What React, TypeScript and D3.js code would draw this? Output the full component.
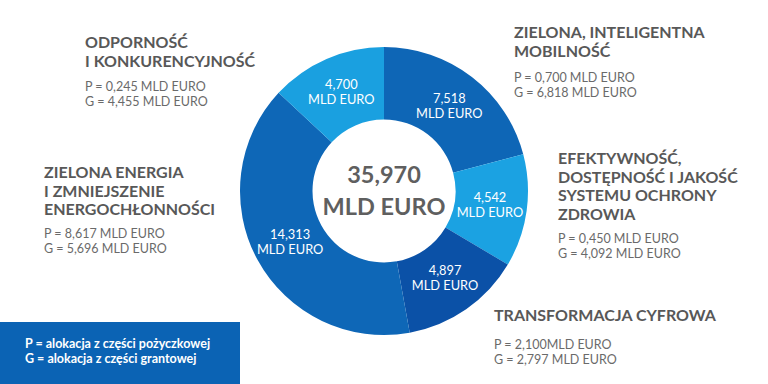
import React from "react";
import * as d3 from "d3";

// ---- data ----
const categories = [
  "Zielona, inteligentna mobilność",
  "Efektywność, dostępność i jakość systemu ochrony zdrowia",
  "Transformacja cyfrowa",
  "Zielona energia i zmniejszenie energochłonności",
  "Odporność i konkurencyjność",
];
const values = [7.518, 4.542, 4.897, 14.313, 4.7];
const valueLabels = ["7,518", "4,542", "4,897", "14,313", "4,700"];
const titleLines = [
  ["ZIELONA, INTELIGENTNA", "MOBILNOŚĆ"],
  ["EFEKTYWNOŚĆ,", "DOSTĘPNOŚĆ I JAKOŚĆ", "SYSTEMU OCHRONY", "ZDROWIA"],
  ["TRANSFORMACJA CYFROWA"],
  ["ZIELONA ENERGIA", "I ZMNIEJSZENIE", "ENERGOCHŁONNOŚCI"],
  ["ODPORNOŚĆ", "I KONKURENCYJNOŚĆ"],
];
const loanLines = [
  "P = 0,700 MLD EURO",
  "P = 0,450 MLD EURO",
  "P = 2,100MLD EURO",
  "P = 8,617 MLD EURO",
  "P = 0,245 MLD EURO",
];
const grantLines = [
  "G = 6,818 MLD EURO",
  "G = 4,092 MLD EURO",
  "G = 2,797 MLD EURO",
  "G = 5,696 MLD EURO",
  "G = 4,455 MLD EURO",
];
const totalLabel = "35,970";
const unitLabel = "MLD EURO";
const legendLines = [
  "P = alokacja z części pożyczkowej",
  "G = alokacja z części grantowej",
];

// ---- styling / layout ----
const colors = ["#0e66b6", "#1ba2e2", "#0b51a7", "#0e67b7", "#1aa0e0"];
const W = 768;
const H = 384;
const cx = 384;
const cy = 191;
const rOuter = 144;
const rInner = 71.5;
const FONT = "Lato, 'Open Sans', sans-serif";
const TITLE = "#585858";
const SUB = "#6a6a6a";

// annotation block anchors (x, first title baseline, baseline of P line)
const blocks = [
  { x: 514, y: 38, py: 82 },
  { x: 558, y: 164, py: 243 },
  { x: 494, y: 321, py: 349 },
  { x: 44, y: 178, py: 238 },
  { x: 85, y: 48, py: 91 },
];

export default function App() {
  const pie = d3
    .pie<number>()
    .sort(null)
    .value((d) => d)
    .startAngle(0)
    .endAngle(2 * Math.PI);
  const arcs = pie(values);
  const arc = d3.arc<d3.PieArcDatum<number>>().innerRadius(rInner).outerRadius(rOuter);
  const labelArc = d3
    .arc<d3.PieArcDatum<number>>()
    .innerRadius(107)
    .outerRadius(107);

  return (
    <svg
      width={W}
      height={H}
      viewBox={`0 0 ${W} ${H}`}
      style={{ position: "absolute", left: 0, top: 0, display: "block", background: "#fff" }}
      fontFamily={FONT}
    >
      <rect x={0} y={0} width={W} height={H} fill="#fff" />
      <g transform={`translate(${cx},${cy})`}>
        {arcs.map((a, i) => (
          <path key={categories[i]} d={arc(a) || ""} fill={colors[i]} />
        ))}
        {arcs.map((a, i) => {
          const [lx, ly] = labelArc.centroid(a);
          return (
            <text
              key={"l" + i}
              x={lx}
              y={ly}
              textAnchor="middle"
              fill="#fff"
              fontSize={12.8}
            >
              <tspan x={lx} dy={-3.5}>{valueLabels[i]}</tspan>
              <tspan x={lx} dy={15}>{unitLabel}</tspan>
            </text>
          );
        })}
        <text textAnchor="middle" fill="#5f5f5f" fontSize={23.5} fontWeight={700}>
          <tspan x={0} y={-8}>{totalLabel}</tspan>
          <tspan x={0} y={24}>{unitLabel}</tspan>
        </text>
      </g>

      {blocks.map((b, i) => (
        <g key={"b" + i}>
          <text fill={TITLE} fontSize={16} fontWeight={700}>
            {titleLines[i].map((t, j) => (
              <tspan key={j} x={b.x} y={b.y + j * 18.5}>
                {t}
              </tspan>
            ))}
          </text>
          <text fill={SUB} fontSize={12.5}>
            <tspan x={b.x} y={b.py}>{loanLines[i]}</tspan>
            <tspan x={b.x} y={b.py + 15}>{grantLines[i]}</tspan>
          </text>
        </g>
      ))}

      <rect x={0} y={322} width={240} height={62} fill="#0b63b4" />
      <text fill="#fff" fontSize={12.5} fontWeight={700}>
        {legendLines.map((t, j) => (
          <tspan key={j} x={25} y={348 + j * 15}>
            {t}
          </tspan>
        ))}
      </text>
    </svg>
  );
}
